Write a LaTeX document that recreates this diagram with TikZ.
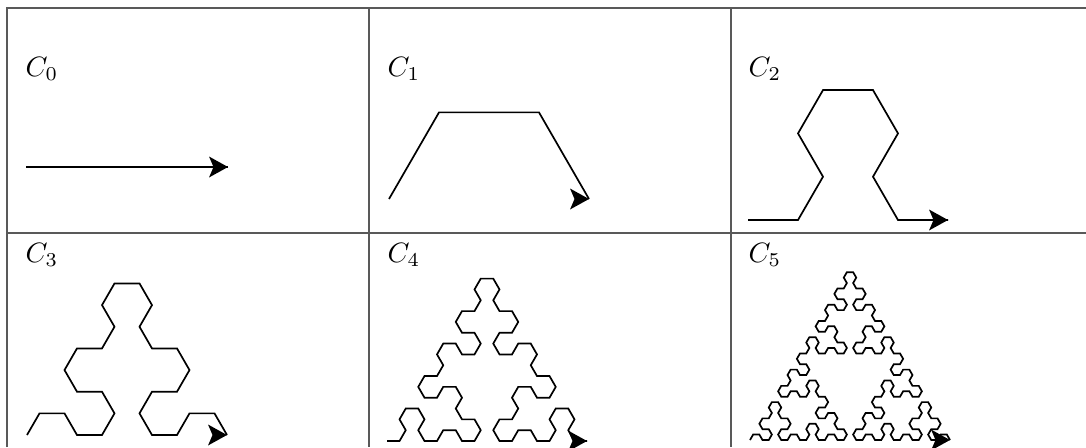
\documentclass[tikz,border=0pt]{standalone}
\usetikzlibrary{arrows.meta}

% Sierpinski arrowhead curve, built as a chain of relative polar steps
\newcount\saheading
\newtoks\sapath
\def\salen{10}
\def\saforward{%
  \xdef\satmp{\the\sapath -- ++(\the\saheading:\salen pt)}%
  \global\sapath=\expandafter{\satmp}}
\def\sacurve#1#2{%
  \ifnum#1=0 \expandafter\saleaf\else\expandafter\sastep\fi{#1}{#2}}
\def\saleaf#1#2{\saforward}
\def\sastep#1#2{\expandafter\sasub\expandafter{\the\numexpr#1-1\relax}{#2}}
\def\sasub#1#2{%
  \sacurve{#1}{-#2}%
  \global\advance\saheading by #2\relax
  \sacurve{#1}{#2}%
  \global\advance\saheading by #2\relax
  \sacurve{#1}{-#2}}
% order, segment length, initial heading
\newcommand\sabuild[3]{%
  \global\sapath={}%
  \global\saheading=#3\relax
  \def\salen{#2}%
  \sacurve{#1}{-60}}
% order, segment length, initial heading, start point, end coordinate name
\newcommand\sadrawcurve[5]{%
  \sabuild{#1}{#2}{#3}%
  \edef\satmp{\noexpand\draw[fractal line] #4 \the\sapath\space coordinate (#5);}%
  \satmp
  \pic at (#5) {tiphead};}

\begin{document}
\begin{tikzpicture}[x=1pt,y=-1pt,
  grid line/.style={line width=1.1pt,black!65},
  fractal line/.style={line width=1.7pt,black,line join=miter},
  lbl/.style={anchor=base west,inner sep=0pt,scale=2.8},
  tiphead/.pic={\fill[black] (0,0) -- (-19,-10.5) -- (-14.5,0) -- (-19,10.5) -- cycle;}]
\useasboundingbox (0,0) rectangle (1086,447);
\fill[white] (0,0) rectangle (1086,447);

% table rules
\draw[grid line] (7,447) -- (7,8) -- (1086,8);
\draw[grid line] (7,233) -- (1086,233);
\draw[grid line] (369,8) -- (369,447);
\draw[grid line] (731,8) -- (731,447);

% labels
\node[lbl] (l0) at (25,76) {$C_0$};
\node[lbl] (l1) at (387,76) {$C_1$};
\node[lbl] (l2) at (748,76) {$C_2$};
\node[lbl] (l3) at (25,262) {$C_3$};
\node[lbl] (l4) at (387,262) {$C_4$};
\node[lbl] (l5) at (748,262) {$C_5$};

% curves of order 0 to 5, all with a base of 200
\sadrawcurve{0}{202}{0}{(26,167)}{e0}
\sadrawcurve{1}{100}{60}{(389,199)}{e1}
\sadrawcurve{2}{50}{0}{(748,220)}{e2}
\sadrawcurve{3}{25}{60}{(27,435)}{e3}
\sadrawcurve{4}{12.5}{0}{(387,441)}{e4}
\sadrawcurve{5}{6.25}{60}{(750,440)}{e5}
\end{tikzpicture}
\end{document}
